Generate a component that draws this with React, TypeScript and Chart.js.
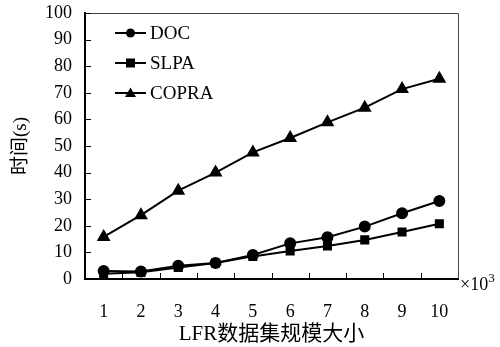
import React, { useEffect, useRef } from "react";
import { Chart, registerables } from "chart.js";

Chart.register(...registerables);

const categories = ["1", "2", "3", "4", "5", "6", "7", "8", "9", "10"];
const docValues = [3, 2.8, 5, 6, 9, 13.4, 15.7, 19.7, 24.7, 29.3];
const slpaValues = [2, 2.5, 4.3, 6, 8.5, 10.5, 12.4, 14.7, 17.7, 20.8];
const copraValues = [15.8, 24, 33.2, 40, 47.6, 53, 58.9, 64.4, 71.4, 75.3];
const seriesNames = ["DOC", "SLPA", "COPRA"];
const yTicks = [0, 10, 20, 30, 40, 50, 60, 70, 80, 90, 100];

const FONT = "'Liberation Serif', 'Times New Roman', 'Noto Sans CJK SC', serif";

const decoPlugin = {
  id: "deco",
  afterDraw(chart: any) {
    const { ctx, chartArea } = chart;
    const { left, right, top, bottom } = chartArea;
    const xs = chart.scales.x;
    const ys = chart.scales.y;
    ctx.save();
    ctx.strokeStyle = "#444";
    ctx.lineWidth = 1;
    ctx.beginPath();
    ctx.moveTo(left, top + 0.5);
    ctx.lineTo(right + 0.5, top + 0.5);
    ctx.lineTo(right + 0.5, bottom);
    ctx.stroke();
    ctx.strokeStyle = "#000";
    ctx.lineWidth = 1;
    ctx.beginPath();
    yTicks.forEach((v) => {
      const y = Math.round(ys.getPixelForValue(v)) + 0.5;
      if (v === 0) return;
      ctx.moveTo(left, y);
      ctx.lineTo(left + 6, y);
    });
    const n = categories.length;
    for (let i = 1; i < n; i++) {
      const x = Math.round((xs.getPixelForValue(i - 1) + xs.getPixelForValue(i)) / 2) + 0.5;
      ctx.moveTo(x, bottom);
      ctx.lineTo(x, bottom - 6);
    }
    ctx.stroke();
    const ds = chart.data.datasets;
    const rows = [33, 63, 93];
    ds.forEach((d: any, i: number) => {
      const y = rows[i];
      ctx.strokeStyle = "#000";
      ctx.lineWidth = 2;
      ctx.beginPath();
      ctx.moveTo(115, y);
      ctx.lineTo(146, y);
      ctx.stroke();
      ctx.fillStyle = "#000";
      ctx.beginPath();
      if (d.pointStyle === "circle") {
        ctx.arc(130.5, y, 4.5, 0, Math.PI * 2);
      } else if (d.pointStyle === "rect") {
        ctx.rect(126, y - 4.5, 9, 9);
      } else {
        ctx.moveTo(130.5, y - 5.5);
        ctx.lineTo(136, y + 4);
        ctx.lineTo(125, y + 4);
        ctx.closePath();
      }
      ctx.fill();
      ctx.font = `19px ${FONT}`;
      ctx.textAlign = "left";
      ctx.textBaseline = "middle";
      ctx.fillText(seriesNames[i], 150, y + 1);
    });
    ctx.font = `18px ${FONT}`;
    ctx.textAlign = "left";
    ctx.textBaseline = "alphabetic";
    ctx.fillText("×10", 460, 290);
    const w = ctx.measureText("×10").width;
    ctx.font = `13px ${FONT}`;
    ctx.fillText("3", 460 + w, 282);
    ctx.restore();
  },
};

export default function App() {
  const ref = useRef<HTMLCanvasElement>(null);
  useEffect(() => {
    document.body.style.margin = "0";
    const chart = new Chart(ref.current!, {
      type: "line",
      data: {
        labels: categories,
        datasets: [
          { label: seriesNames[0], data: docValues, pointStyle: "circle", pointRadius: 5 },
          { label: seriesNames[1], data: slpaValues, pointStyle: "rect", pointRadius: 5 },
          { label: seriesNames[2], data: copraValues, pointStyle: "triangle", pointRadius: 6 },
        ].map((d) => ({
          ...d,
          borderColor: "#000",
          backgroundColor: "#000",
          pointBackgroundColor: "#000",
          pointBorderColor: "#000",
          borderWidth: 2,
          tension: 0,
        })),
      },
      options: {
        animation: false,
        responsive: false,
        maintainAspectRatio: false,
        layout: { padding: { top: 13, right: 42, left: 0, bottom: 0 } },
        plugins: { legend: { display: false }, tooltip: { enabled: false } },
        scales: {
          x: {
            type: "category",
            offset: true,
            grid: { display: false, drawTicks: false },
            border: { display: true, color: "#000", width: 2 },
            ticks: { color: "#000", font: { family: FONT, size: 18 }, padding: 22, maxRotation: 0 },
            title: {
              display: true,
              text: "LFR数据集规模大小",
              color: "#000",
              font: { family: FONT, size: 21 },
              padding: { top: 3, bottom: 0 },
            },
            afterFit: (s: any) => {
              s.height = 68;
              s.paddingLeft = 0;
              s.paddingRight = 0;
            },
          },
          y: {
            min: 0,
            max: 100,
            afterBuildTicks: (s: any) => {
              s.ticks = yTicks.map((v) => ({ value: v }));
            },
            grid: { display: false, drawTicks: false },
            border: { display: true, color: "#000", width: 2 },
            ticks: { color: "#000", font: { family: FONT, size: 18 }, padding: 13 },
            title: {
              display: true,
              text: "时间(s)",
              color: "#000",
              font: { family: FONT, size: 19 },
              padding: { top: 10, bottom: 6 },
            },
            afterFit: (s: any) => {
              s.width = 85;
              s.paddingTop = 0;
              s.paddingBottom = 0;
            },
          },
        },
      },
      plugins: [decoPlugin],
    });
    return () => chart.destroy();
  }, []);
  return <canvas ref={ref} width={500} height={347} style={{ display: "block" }} />;
}
